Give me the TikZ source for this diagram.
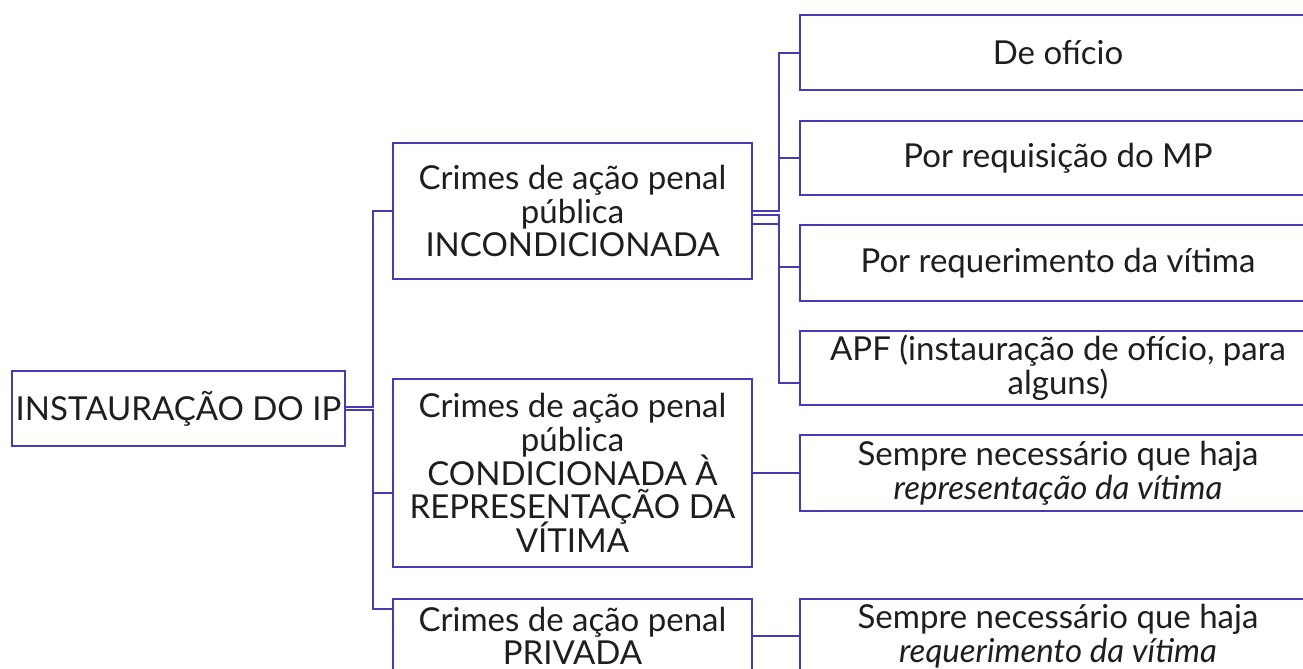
\documentclass[tikz,border=0pt]{standalone}
\usepackage{fontspec}
\setmainfont{Lato}
\definecolor{linecol}{RGB}{72,58,176}
\definecolor{textcol}{RGB}{30,30,30}
\newcommand\boxfont{\fontsize{16.5}{16.8}\selectfont\lineskiplimit=-20pt\relax}
\tikzset{
  box/.style={draw=linecol, line width=1pt, text=textcol, align=center,
    inner sep=0pt, font=\boxfont},
  leftbox/.style={box, minimum width=179.5pt},
  rightbox/.style={box, minimum width=258pt},
  link/.style={draw=linecol, line width=1pt},
}
\begin{document}
\begin{tikzpicture}[x=0.5pt,y=-0.5pt]
\useasboundingbox (0,0) rectangle (1303,669);
\clip (0,0) rectangle (1303,669);
  % Node: root
  \node[box, minimum width=166.5pt, minimum height=37.5pt] (root) at (178.5,408.5) {INSTAURAÇÃO DO IP};
  % Nodes: left column
  \node[leftbox, minimum height=68pt] (incond) at (572.5,211) {Crimes de ação penal\\pública\\INCONDICIONADA};
  \node[leftbox, minimum height=94pt] (cond) at (572.5,473) {Crimes de ação penal\\pública\\CONDICIONADA À\\REPRESENTAÇÃO DA\\VÍTIMA};
  \node[leftbox, minimum height=37pt] (priv) at (572.5,636) {Crimes de ação penal\\PRIVADA};
  % Nodes: right column
  \node[rightbox, minimum height=37.5pt] (oficio) at (1058,52.5) {De ofício};
  \node[rightbox, minimum height=37pt] (mp) at (1058,158) {Por requisição do MP};
  \node[rightbox, minimum height=38pt] (reqvit) at (1058,263) {Por requerimento da vítima};
  \node[rightbox, minimum height=37pt] (apf) at (1058,368) {APF (instauração de ofício, para\\alguns)};
  \node[rightbox, minimum height=38pt] (repr) at (1058,473) {Sempre necessário que haja\\\textit{representação da vítima}};
  \node[rightbox, minimum height=37pt] (reqpriv) at (1058,636) {Sempre necessário que haja\\\textit{requerimento da vítima}};
  % Edge: root -> incond
  \draw[link] ([yshift=0.75pt]root.east) -- ++(27,0) |- (incond.west);
  % Edge: root -> cond
  \draw[link] ([yshift=-0.75pt]root.east) -- ++(27,0) |- ([yshift=-10pt]cond.west);
  % Edge: root -> priv
  \draw[link] ([yshift=-0.75pt]root.east) -- ++(27,0) |- ([yshift=13.5pt]priv.west);
  % Edge: incond -> oficio
  \draw[link] (incond.east) -- ++(26,0) |- (oficio.west);
  % Edge: incond -> mp
  \draw[link] (incond.east) -- ++(26,0) |- (mp.west);
  % Edge: incond -> reqvit
  \draw[link] ([yshift=-2pt]incond.east) -- ++(26,0) |- ([yshift=-2pt]reqvit.west);
  % Edge: incond -> apf
  \draw[link] ([yshift=-6.5pt]incond.east) -- ++(26,0) |- ([yshift=-7.5pt]apf.west);
  % Edge: cond -> repr
  \draw[link] (cond.east) -- (repr.west);
  % Edge: priv -> reqpriv
  \draw[link] (priv.east) -- (reqpriv.west);
\end{tikzpicture}
\end{document}
